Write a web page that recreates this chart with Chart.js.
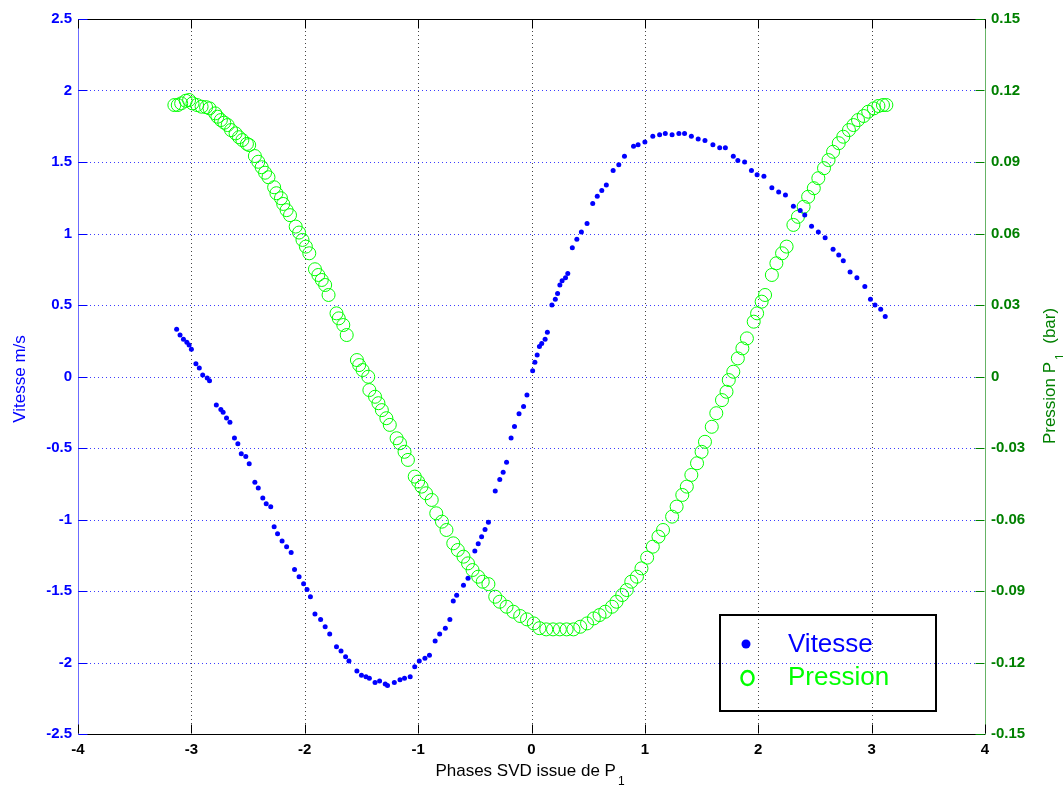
<!DOCTYPE html>
<html>
<head>
<meta charset="utf-8">
<script src="https://cdn.jsdelivr.net/npm/chart.js@4.4.1/dist/chart.umd.min.js"></script>
<style>
  html, body { margin: 0; padding: 0; background: #fff; }
  #wrap { width: 1063px; height: 790px; }
</style>
</head>
<body>
<div id="wrap"><canvas id="chart" width="1063" height="790"></canvas></div>
<script>
// phase (rad) -> vitesse (m/s), left axis
const vitessePhase = [
  -3.13, -3.10, -3.07, -3.04, -3.02, -3.00,
  -2.96, -2.93, -2.90, -2.86, -2.84,
  -2.78, -2.74, -2.72, -2.69, -2.66,
  -2.62, -2.59, -2.56, -2.52, -2.49,
  -2.44, -2.41, -2.37, -2.34, -2.30,
  -2.27, -2.24, -2.20, -2.16, -2.12,
  -2.09, -2.05, -2.01, -1.98, -1.95,
  -1.91, -1.86, -1.82, -1.78,
  -1.72, -1.68, -1.64, -1.61,
  -1.54, -1.50, -1.46, -1.43,
  -1.38, -1.34, -1.29, -1.27,
  -1.21, -1.16, -1.12, -1.07,
  -1.03, -0.99, -0.94, -0.90,
  -0.85, -0.81, -0.76, -0.72,
  -0.69, -0.66, -0.60, -0.56,
  -0.50, -0.47, -0.44, -0.41, -0.38,
  -0.32, -0.28, -0.25, -0.22,
  -0.18, -0.15, -0.11, -0.07, -0.04,
  0.01, 0.03, 0.05, 0.07, 0.09, 0.12, 0.14,
  0.18, 0.21, 0.23, 0.25, 0.27, 0.30, 0.32,
  0.36, 0.40, 0.44, 0.49,
  0.54, 0.58, 0.62, 0.66,
  0.72, 0.77, 0.82,
  0.90, 0.94, 1.00,
  1.07, 1.13, 1.18, 1.24, 1.30, 1.35,
  1.41, 1.47, 1.53, 1.60, 1.66, 1.71,
  1.78, 1.82, 1.88, 1.94, 1.99, 2.05,
  2.12, 2.18, 2.24, 2.31, 2.37, 2.41,
  2.47, 2.53, 2.59, 2.66, 2.71, 2.75,
  2.81, 2.87, 2.94, 2.99, 3.03, 3.08, 3.12
]
const vitesseValue = [
  0.33, 0.29, 0.26, 0.24, 0.22, 0.19,
  0.09, 0.06, 0.01, -0.01, -0.03,
  -0.20, -0.23, -0.25, -0.29, -0.32,
  -0.43, -0.47, -0.54, -0.56, -0.61,
  -0.74, -0.78, -0.85, -0.89, -0.91,
  -1.05, -1.10, -1.15, -1.19, -1.23,
  -1.35, -1.40, -1.45, -1.49, -1.54,
  -1.66, -1.70, -1.75, -1.80,
  -1.89, -1.92, -1.96, -1.99,
  -2.06, -2.09, -2.10, -2.11,
  -2.14, -2.13, -2.15, -2.16,
  -2.14, -2.12, -2.11, -2.10,
  -2.03, -1.99, -1.97, -1.95,
  -1.85, -1.80, -1.76, -1.70,
  -1.57, -1.53, -1.46, -1.41,
  -1.22, -1.17, -1.12, -1.07, -1.02,
  -0.80, -0.72, -0.67, -0.60,
  -0.43, -0.35, -0.26, -0.21, -0.13,
  0.04, 0.10, 0.15, 0.21, 0.23, 0.26, 0.31,
  0.50, 0.54, 0.58, 0.64, 0.67, 0.69, 0.72,
  0.90, 0.96, 1.01, 1.07,
  1.21, 1.26, 1.30, 1.34,
  1.44, 1.48, 1.54,
  1.61, 1.62, 1.64,
  1.68, 1.69, 1.70, 1.69, 1.70, 1.70,
  1.68, 1.66, 1.65, 1.62, 1.60, 1.60,
  1.54, 1.51, 1.50, 1.44, 1.41, 1.40,
  1.32, 1.29, 1.27, 1.19, 1.16, 1.13,
  1.05, 1.01, 0.97, 0.89, 0.85, 0.81,
  0.73, 0.69, 0.63, 0.54, 0.50, 0.47, 0.42
]

// phase (rad) -> pression P1 (bar), right axis
const pressionPhase = [
  -3.15, -3.12, -3.09, -3.05, -3.02, -2.99, -2.95, -2.91, -2.87, -2.84,
  -2.79, -2.77, -2.74, -2.71, -2.68, -2.65, -2.61, -2.58, -2.55, -2.51, -2.49,
  -2.44, -2.41, -2.38, -2.35, -2.32, -2.27, -2.25, -2.21, -2.19, -2.16, -2.13,
  -2.08, -2.05, -2.02, -1.99, -1.96, -1.91, -1.88, -1.85, -1.82, -1.79,
  -1.72, -1.70, -1.66, -1.63, -1.54, -1.52, -1.49, -1.44,
  -1.43, -1.38, -1.35, -1.32, -1.28, -1.25, -1.19, -1.16, -1.12, -1.09,
  -1.03, -1.00, -0.97, -0.93, -0.88, -0.84, -0.79, -0.75,
  -0.69, -0.65, -0.60, -0.56, -0.52, -0.47, -0.43, -0.38,
  -0.32, -0.28, -0.22, -0.16, -0.10, -0.04, 0.02, 0.07, 0.13, 0.19, 0.25, 0.31, 0.37,
  0.43, 0.49, 0.55, 0.60, 0.65, 0.71, 0.75, 0.80, 0.84, 0.88, 0.93, 0.97, 1.02,
  1.07, 1.12, 1.16, 1.24, 1.28, 1.33, 1.37, 1.41, 1.46, 1.50, 1.53, 1.59, 1.63, 1.68, 1.72,
  1.74, 1.78, 1.82, 1.86, 1.90, 1.96, 1.99, 2.03, 2.06, 2.12, 2.16, 2.21, 2.25,
  2.31, 2.35, 2.40, 2.44, 2.49, 2.53, 2.58, 2.62, 2.66, 2.71, 2.75, 2.80, 2.84, 2.88, 2.93, 2.97, 3.02, 3.06, 3.10, 3.13
]
const pressionValue = [
  0.1139, 0.1139, 0.1146, 0.1157, 0.1160, 0.1146, 0.1139, 0.1132, 0.1130, 0.1125,
  0.1104, 0.1090, 0.1076, 0.1065, 0.1055, 0.1034, 0.1020, 0.1004, 0.0992, 0.0976, 0.0971,
  0.0925, 0.0901, 0.0878, 0.0855, 0.0836, 0.0794, 0.0769, 0.0748, 0.0724, 0.0698, 0.0677,
  0.0629, 0.0604, 0.0573, 0.0545, 0.0517, 0.0450, 0.0426, 0.0405, 0.0384, 0.0342,
  0.0265, 0.0244, 0.0216, 0.0174, 0.0069, 0.0048, 0.0027, -0.0001,
  -0.0057, -0.0085, -0.0112, -0.0141, -0.0175, -0.0203, -0.0259, -0.0280, -0.0316, -0.0350,
  -0.0420, -0.0441, -0.0462, -0.0490, -0.0518, -0.0574, -0.0609, -0.0644,
  -0.0700, -0.0728, -0.0756, -0.0784, -0.0812, -0.0840, -0.0861, -0.0871,
  -0.0924, -0.0945, -0.0966, -0.0987, -0.1005, -0.1019, -0.1036, -0.1056, -0.1061, -0.1061, -0.1061, -0.1061, -0.1061,
  -0.1050, -0.1036, -0.1015, -0.1001, -0.0987, -0.0966, -0.0945, -0.0917, -0.0896, -0.0861, -0.0840, -0.0805, -0.0760,
  -0.0714, -0.0672, -0.0644, -0.0588, -0.0546, -0.0497, -0.0462, -0.0413, -0.0364, -0.0316, -0.0274, -0.0211, -0.0154, -0.0099, -0.0064,
  -0.0015, 0.0020, 0.0076, 0.0118, 0.0160, 0.0230, 0.0265, 0.0314, 0.0342, 0.0426, 0.0475, 0.0517, 0.0545,
  0.0636, 0.0670, 0.0712, 0.0754, 0.0790, 0.0832, 0.0874, 0.0908, 0.0943, 0.0979, 0.1006, 0.1034, 0.1055, 0.1076, 0.1093, 0.1111, 0.1125, 0.1135, 0.1139, 0.1139
]

const xTickValues = [-4, -3, -2, -1, 0, 1, 2, 3, 4]
const yTickValues = [-2.5, -2, -1.5, -1, -0.5, 0, 0.5, 1, 1.5, 2, 2.5]
const yTickLabels = ['-2.5', '-2', '-1.5', '-1', '-0.5', '0', '0.5', '1', '1.5', '2', '2.5']
const y1TickValues = [-0.15, -0.12, -0.09, -0.06, -0.03, 0, 0.03, 0.06, 0.09, 0.12, 0.15]
const y1TickLabels = ['-0.15', '-0.12', '-0.09', '-0.06', '-0.03', '0', '0.03', '0.06', '0.09', '0.12', '0.15']

const FONT = '"Liberation Sans", Arial, sans-serif'
const BLUE = '#0000ff'
const GREEN = '#00ff00'
const DARKGREEN = '#008000'

// "main" + lowered subscript + "after", centered on x
function textWithSub(ctx, main, sub, after, x, y, size, color) {
  const big = `${size}px ${FONT}`
  const small = `${Math.round(size * 0.72)}px ${FONT}`
  ctx.fillStyle = color
  ctx.textAlign = 'left'
  ctx.textBaseline = 'alphabetic'
  ctx.font = big
  const w1 = ctx.measureText(main).width
  const w3 = after ? ctx.measureText(after).width : 0
  ctx.font = small
  const w2 = ctx.measureText(sub).width + 2
  let x0 = x - (w1 + w2 + w3) / 2
  ctx.font = big
  ctx.fillText(main, x0, y)
  ctx.font = small
  ctx.fillText(sub, x0 + w1 + 2, y + size * 0.5)
  if (after) {
    ctx.font = big
    ctx.fillText(after, x0 + w1 + w2, y)
  }
}

// dotted grid, drawn under the points
const dottedGrid = {
  id: 'dottedGrid',
  beforeDatasetsDraw(chart) {
    const { ctx, chartArea: a, scales } = chart
    ctx.save()
    ctx.lineWidth = 1
    ctx.setLineDash([1, 3])
    ctx.strokeStyle = '#3c3cff'
    yTickValues.slice(1, -1).forEach(v => {
      const p = Math.round(scales.y.getPixelForValue(v)) + 0.5
      ctx.beginPath(); ctx.moveTo(a.left, p); ctx.lineTo(a.right, p); ctx.stroke()
    })
    ctx.strokeStyle = '#444'
    xTickValues.slice(1, -1).forEach(v => {
      const p = Math.round(scales.x.getPixelForValue(v)) + 0.5
      ctx.beginPath(); ctx.moveTo(p, a.top); ctx.lineTo(p, a.bottom); ctx.stroke()
    })
    ctx.restore()
  }
}

const matlabAxes = {
  id: 'matlabAxes',
  afterDatasetsDraw(chart) {
    const { ctx, chartArea: a, scales } = chart
    const L = Math.round(a.left) + 0.5, R = Math.round(a.right) - 0.5
    const T = Math.round(a.top) + 0.5, B = Math.round(a.bottom) - 0.5
    const tick = 9
    ctx.save()
    ctx.lineWidth = 1

    // top edge of the box
    ctx.strokeStyle = '#000'
    ctx.beginPath(); ctx.moveTo(L, T); ctx.lineTo(R + 1, T); ctx.stroke()

    // inward tick marks
    xTickValues.forEach(v => {
      const p = Math.round(scales.x.getPixelForValue(v)) + 0.5
      ctx.beginPath()
      ctx.moveTo(p, B); ctx.lineTo(p, B - tick)
      ctx.moveTo(p, T); ctx.lineTo(p, T + tick)
      ctx.stroke()
    })
    ctx.strokeStyle = BLUE
    yTickValues.forEach(v => {
      const p = Math.round(scales.y.getPixelForValue(v)) + 0.5
      ctx.beginPath(); ctx.moveTo(L, p); ctx.lineTo(L + tick, p); ctx.stroke()
    })
    ctx.strokeStyle = DARKGREEN
    y1TickValues.forEach(v => {
      const p = Math.round(scales.y1.getPixelForValue(v)) + 0.5
      ctx.beginPath(); ctx.moveTo(R, p); ctx.lineTo(R - tick, p); ctx.stroke()
    })

    // axis titles
    textWithSub(ctx, 'Phases SVD issue de P', '1', '', 530, 776, 17, '#000')

    ctx.save()
    ctx.translate(25, 379)
    ctx.rotate(-Math.PI / 2)
    ctx.fillStyle = BLUE
    ctx.font = `17px ${FONT}`
    ctx.textAlign = 'center'
    ctx.textBaseline = 'alphabetic'
    ctx.fillText('Vitesse m/s', 0, 0)
    ctx.restore()

    ctx.save()
    ctx.translate(1055, 376)
    ctx.rotate(-Math.PI / 2)
    textWithSub(ctx, 'Pression P', '1', '  (bar)', 0, 0, 17, DARKGREEN)
    ctx.restore()

    // legend box
    ctx.strokeStyle = '#000'
    ctx.lineWidth = 2
    ctx.strokeRect(720, 615, 216, 96)
    ctx.font = `26px ${FONT}`
    ctx.textAlign = 'left'
    ctx.textBaseline = 'alphabetic'
    const ds = chart.data.datasets
    ctx.fillStyle = BLUE
    ctx.beginPath(); ctx.arc(746, 644, 4.5, 0, Math.PI * 2); ctx.fill()
    ctx.fillText(ds[0].label, 788, 652)
    ctx.strokeStyle = GREEN
    ctx.lineWidth = 2.5
    ctx.beginPath(); ctx.ellipse(747.5, 678, 6, 7, 0, 0, Math.PI * 2); ctx.stroke()
    ctx.fillStyle = GREEN
    ctx.fillText(ds[1].label, 788, 685)

    ctx.restore()
  }
}

const tickFont = { family: FONT, size: 15, weight: 'bold' }

new Chart(document.getElementById('chart'), {
  type: 'scatter',
  data: {
    datasets: [
      {
        label: 'Vitesse',
        yAxisID: 'y',
        data: vitessePhase.map((x, i) => ({ x, y: vitesseValue[i] })),
        pointStyle: 'circle',
        pointRadius: 2.5,
        pointBorderWidth: 0,
        pointBackgroundColor: BLUE,
        showLine: false
      },
      {
        label: 'Pression',
        yAxisID: 'y1',
        data: pressionPhase.map((x, i) => ({ x, y: pressionValue[i] })),
        pointStyle: 'circle',
        pointRadius: 6.5,
        pointBorderWidth: 1,
        pointBorderColor: GREEN,
        pointBackgroundColor: 'rgba(0,0,0,0)',
        showLine: false
      }
    ]
  },
  options: {
    responsive: false,
    animation: false,
    layout: { padding: { top: 19, left: 0, right: 0, bottom: 0 } },
    plugins: {
      legend: { display: false },
      tooltip: { enabled: false }
    },
    scales: {
      x: {
        type: 'linear',
        position: 'bottom',
        min: -4,
        max: 4,
        afterBuildTicks: scale => { scale.ticks = xTickValues.map(v => ({ value: v })) },
        afterFit: scale => { scale.height = 56 },
        ticks: { color: '#000', font: tickFont, padding: 7, maxRotation: 0 },
        grid: { drawOnChartArea: false, drawTicks: false },
        border: { color: '#000', width: 1 }
      },
      y: {
        type: 'linear',
        position: 'left',
        min: -2.5,
        max: 2.5,
        afterBuildTicks: scale => { scale.ticks = yTickValues.map(v => ({ value: v })) },
        afterFit: scale => { scale.width = 78 },
        ticks: {
          color: BLUE,
          font: tickFont,
          padding: 6,
          callback: (v, i) => yTickLabels[i]
        },
        grid: { drawOnChartArea: false, drawTicks: false },
        border: { color: '#6b6bff', width: 1 }
      },
      y1: {
        type: 'linear',
        position: 'right',
        min: -0.15,
        max: 0.15,
        afterBuildTicks: scale => { scale.ticks = y1TickValues.map(v => ({ value: v })) },
        afterFit: scale => { scale.width = 78 },
        ticks: {
          color: DARKGREEN,
          font: tickFont,
          padding: 6,
          callback: (v, i) => y1TickLabels[i]
        },
        grid: { drawOnChartArea: false, drawTicks: false },
        border: { color: '#66b366', width: 1 }
      }
    }
  },
  plugins: [dottedGrid, matlabAxes]
})
</script>
</body>
</html>
